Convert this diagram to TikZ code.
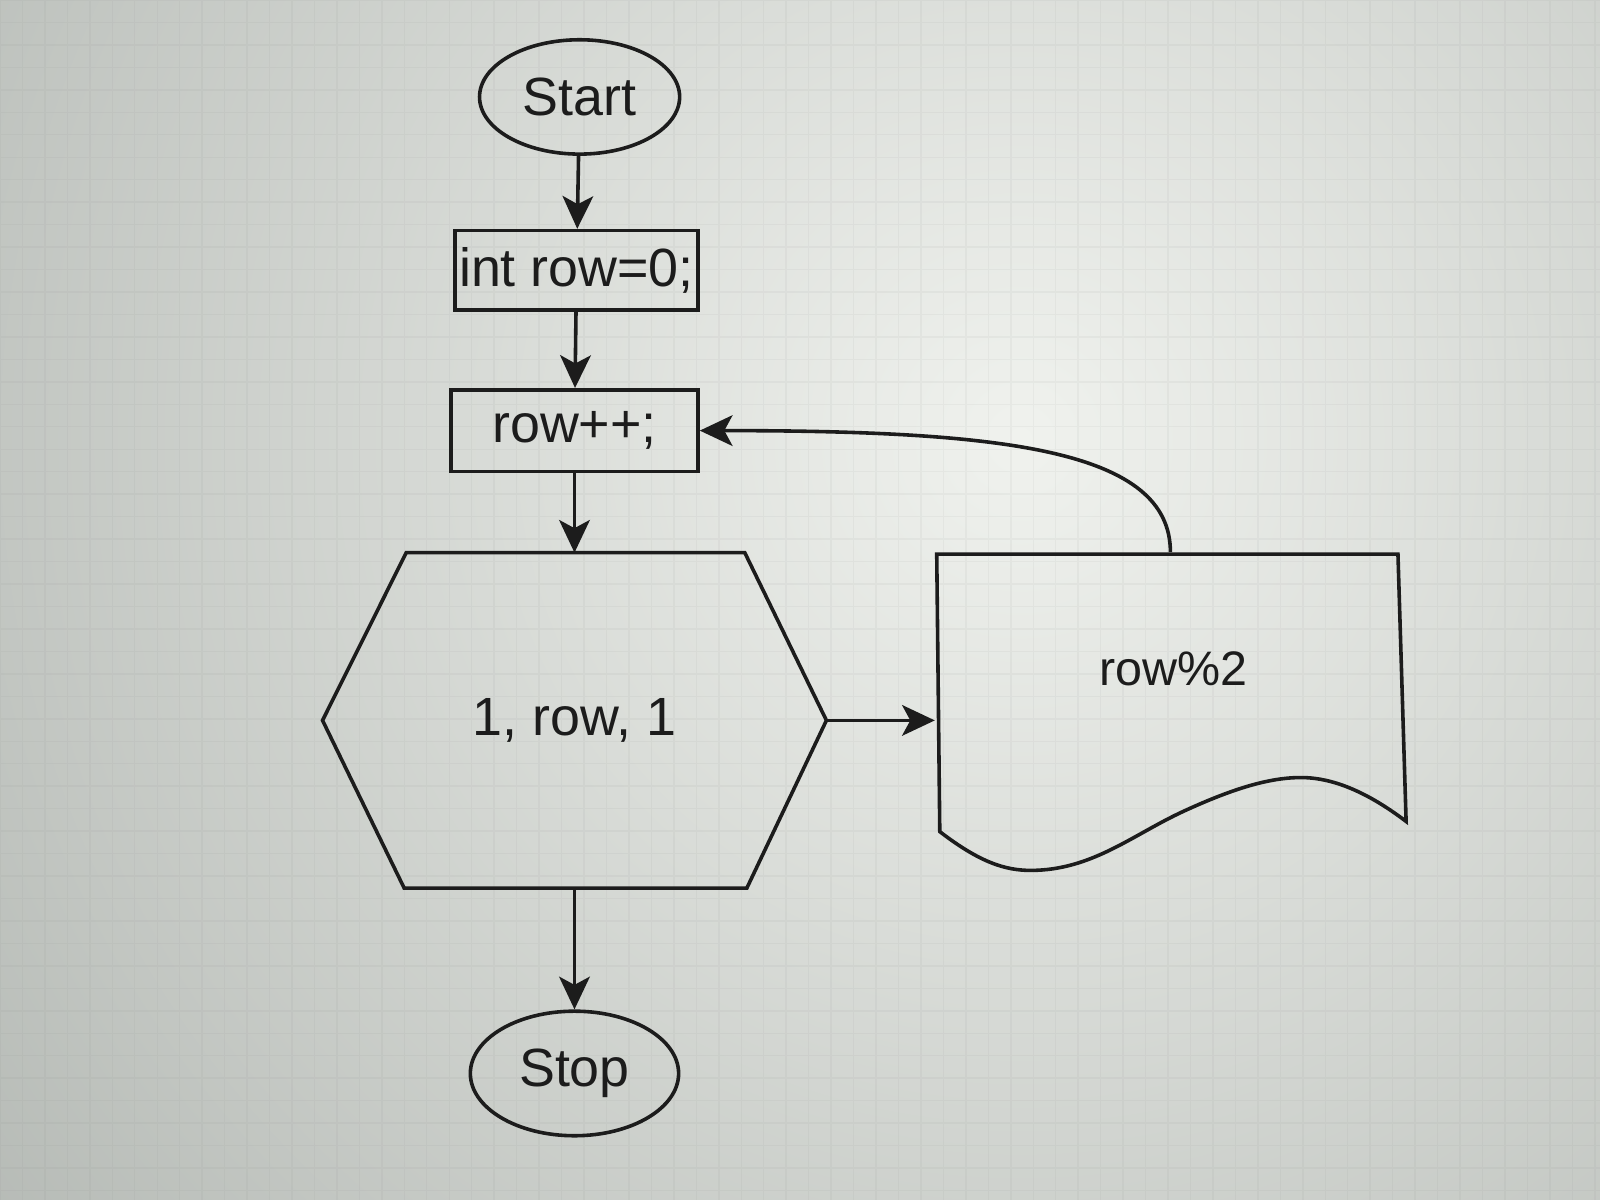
\documentclass[tikz,border=0pt]{standalone}
\usepackage{fontspec}
\setmainfont{Liberation Sans}
\usetikzlibrary{arrows.meta,shapes.geometric,calc}
\definecolor{bgout}{HTML}{959B96}
\definecolor{bgin}{HTML}{F0F2EE}
\definecolor{ink}{HTML}{1C1C1C}
\begin{document}
\begin{tikzpicture}[x=0.01cm,y=-0.01cm,
  line width=1pt,
  conn/.style={draw=ink,-{Stealth[length=0.32cm,width=0.3cm,inset=0.08cm]}},
  term/.style={ellipse,draw=ink,inner sep=0pt,text=ink,font=\fontsize{15}{18}\selectfont},
  procbox/.style={rectangle,draw=ink,inner sep=0pt,text=ink,font=\fontsize{15}{18}\selectfont},
  ghost/.style={rectangle,draw=none,inner sep=0pt,text=ink},
  shapeline/.style={draw=ink,line join=miter}]
\useasboundingbox (0,0) rectangle (1568,1176);
% background (photo of a screen)
\fill[bgout] (0,0) rectangle (1568,1176);
\begin{scope}
  \clip (0,0) rectangle (1568,1176);
  \shade[inner color=bgin,outer color=bgout] (1000,430) circle (2000);
  \draw[gray,opacity=0.07,line width=0.4pt,step=0.22cm] (0,0) grid (1568,1176);
\end{scope}
% nodes
\node[term,minimum width=1.96cm,minimum height=1.12cm] (start) at (568,95) {Start};
\node[procbox,minimum width=2.38cm,minimum height=0.78cm] (init) at (565,265) {int row=0;};
\node[procbox,minimum width=2.42cm,minimum height=0.80cm] (inc) at (563,422) {row++;};
\node[ghost,minimum width=4.90cm,minimum height=3.25cm,font=\fontsize{15}{18}\selectfont] (hex) at (563,706) {1, row, 1};
\draw[shapeline] ($(hex.north west)+(82,0)$) -- ($(hex.north east)+(-80,0)$) -- (hex.east)
  -- ($(hex.south east)+(-78,0)$) -- ($(hex.south west)+(80,0)$) -- (hex.west) -- cycle;
\node[ghost,minimum width=4.58cm,minimum height=3.12cm] (doc) at (1147,699) {};
\draw[shapeline] (918,543) -- (921,815)
  .. controls (960,845) and (985,853) .. (1010,853)
  .. controls (1070,853) and (1110,818) .. (1160,795)
  .. controls (1210,772) and (1245,762) .. (1275,762)
  .. controls (1310,762) and (1345,780) .. (1378,805)
  -- (1370,543) -- cycle;
\node[ghost,font=\fontsize{13.5}{16}\selectfont] (doclabel) at (1150,655) {row\%2};
\node[term,minimum width=2.04cm,minimum height=1.22cm] (stop) at (563,1052) {Stop};
% connectors
\draw[conn] (start) -- (init);
\draw[conn] (init) -- (inc);
\draw[conn] (inc) -- (hex);
\draw[conn] (hex.east) -- (hex.east -| doc.west);
\draw[conn] (doc.north) .. controls +(0,-100) and +(300,0) .. (inc.east);
\draw[conn] (hex) -- (stop);
\end{tikzpicture}
\end{document}
